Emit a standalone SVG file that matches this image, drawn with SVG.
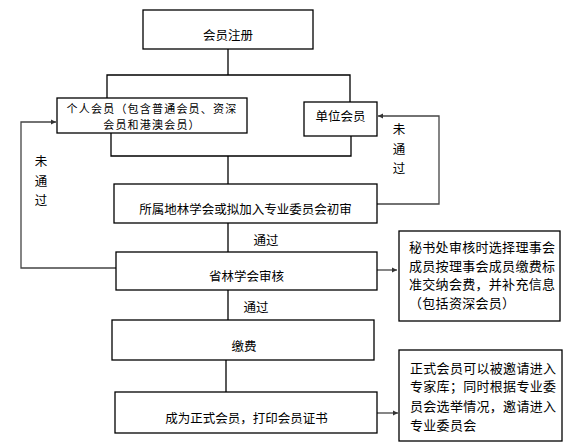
<svg xmlns="http://www.w3.org/2000/svg" width="568" height="443" viewBox="0 0 568 443">
<style>
.box{fill:#fff;stroke:#000;stroke-width:1.3}
.ln{fill:none;stroke:#000;stroke-width:1.3}
.fb{fill:none;stroke:#444;stroke-width:1.3}
text{font-family:"Noto Sans CJK SC","Liberation Sans",sans-serif;font-size:12.5px;fill:#000;dominant-baseline:central}
.c{text-anchor:middle}
.s{font-size:13px;letter-spacing:0.3px}
.p{font-size:11px;letter-spacing:1.2px}
</style>
<defs>
<marker id="ah" markerWidth="6" markerHeight="6" refX="5" refY="3" orient="auto" markerUnits="userSpaceOnUse">
<path d="M0,0.5 L5,3 L0,5.5 z" fill="#333"/>
</marker>
</defs>
<rect width="568" height="443" fill="#fff"/>
<g id="connectors">
<path class="ln" d="M228,49 V75"/>
<path class="ln" d="M107,98 V75 H350 V102"/>
<path class="ln" d="M111,133 V156 H351 V136"/>
<path class="ln" d="M228,156 V184"/>
<path class="fb" d="M377,204 H439 V116 H378" marker-end="url(#ah)"/>
<path class="fb" d="M116,268 H21 V122 H56" marker-end="url(#ah)"/>
<path class="ln" d="M228,223 V252"/>
<path class="fb" d="M377,270 H397" marker-end="url(#ah)"/>
<path class="ln" d="M228,290 V320"/>
<path class="ln" d="M226,360 V392"/>
<path class="fb" d="M377,413 H398" marker-end="url(#ah)"/>
<text x="41" y="160" class="c">未</text>
<text x="41" y="180" class="c">通</text>
<text x="41" y="199" class="c">过</text>
<text x="399" y="128" class="c">未</text>
<text x="399" y="148" class="c">通</text>
<text x="399" y="167" class="c">过</text>
<text x="266" y="239" class="c">通过</text>
<text x="256" y="306" class="c">通过</text>
</g>
<g id="register">
<rect class="box" x="143" y="10" width="170" height="39"/>
<text x="228" y="34.5" class="c">会员注册</text>
</g>
<g id="personal">
<rect class="box" x="57" y="98" width="190" height="35"/>
<text x="152" y="107.5" class="c p">个人会员（包含普通会员、资深</text>
<text x="152" y="124" class="c p">会员和港澳会员）</text>
</g>
<g id="unit">
<rect class="box" x="304" y="102" width="73" height="34"/>
<text x="340.5" y="115.5" class="c">单位会员</text>
</g>
<g id="prelim">
<rect class="box" x="114" y="184" width="263" height="39"/>
<text x="245.5" y="208" class="c">所属地林学会或拟加入专业委员会初审</text>
</g>
<g id="province">
<rect class="box" x="116" y="252" width="261" height="38"/>
<text x="246.5" y="275" class="c">省林学会审核</text>
</g>
<g id="note1">
<rect class="box" x="399" y="231" width="161" height="90"/>
<text x="409" y="246" class="s">秘书处审核时选择理事会</text>
<text x="409" y="265" class="s">成员按理事会成员缴费标</text>
<text x="409" y="283.5" class="s">准交纳会费，并补充信息</text>
<text x="409" y="302" class="s">（包括资深会员）</text>
</g>
<g id="fee">
<rect class="box" x="112" y="320" width="262" height="40"/>
<text x="244" y="345" class="c">缴费</text>
</g>
<g id="member">
<rect class="box" x="115" y="392" width="262" height="41"/>
<text x="246.5" y="417" class="c">成为正式会员，打印会员证书</text>
</g>
<g id="note2">
<rect class="box" x="399" y="350" width="163" height="91"/>
<text x="410" y="367" class="s">正式会员可以被邀请进入</text>
<text x="410" y="385" class="s">专家库；同时根据专业委</text>
<text x="410" y="405" class="s">员会选举情况，邀请进入</text>
<text x="410" y="424.5" class="s">专业委员会</text>
</g>
</svg>
